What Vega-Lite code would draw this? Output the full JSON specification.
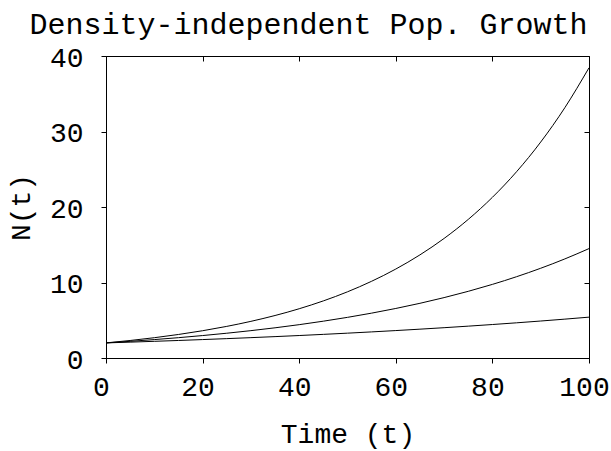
{
  "$schema": "https://vega.github.io/schema/vega-lite/v6.json",
  "autosize": {"type": "none"},
  "padding": {"left": 106, "top": 56, "right": 22, "bottom": 93},
  "width": 483,
  "height": 302,
  "background": "white",
  "title": {
    "text": "Density-independent Pop. Growth",
    "font": "Liberation Mono",
    "fontSize": 30,
    "fontWeight": "normal",
    "color": "black",
    "anchor": "middle",
    "frame": "group",
    "dx": -39,
    "offset": 4
  },
  "config": {
    "view": {"stroke": "black", "strokeWidth": 1},
    "axis": {
      "grid": false,
      "domainColor": "black",
      "tickColor": "black",
      "labelColor": "black",
      "titleColor": "black",
      "labelFont": "Liberation Mono",
      "titleFont": "Liberation Mono",
      "labelFontSize": 28,
      "titleFontSize": 28,
      "titleFontWeight": "normal",
      "tickSize": 5,
      "domainWidth": 1,
      "tickWidth": 1
    }
  },
  "data": {
    "values": [
      {"t": 0, "N": 2, "s": "1.01"}, {"t": 5, "N": 2.102, "s": "1.01"}, {"t": 10, "N": 2.209, "s": "1.01"}, {"t": 15, "N": 2.322, "s": "1.01"}, {"t": 20, "N": 2.440, "s": "1.01"}, {"t": 25, "N": 2.565, "s": "1.01"}, {"t": 30, "N": 2.696, "s": "1.01"}, {"t": 35, "N": 2.833, "s": "1.01"}, {"t": 40, "N": 2.978, "s": "1.01"}, {"t": 45, "N": 3.130, "s": "1.01"}, {"t": 50, "N": 3.289, "s": "1.01"}, {"t": 55, "N": 3.457, "s": "1.01"}, {"t": 60, "N": 3.633, "s": "1.01"}, {"t": 65, "N": 3.819, "s": "1.01"}, {"t": 70, "N": 4.014, "s": "1.01"}, {"t": 75, "N": 4.218, "s": "1.01"}, {"t": 80, "N": 4.433, "s": "1.01"}, {"t": 85, "N": 4.660, "s": "1.01"}, {"t": 90, "N": 4.897, "s": "1.01"}, {"t": 95, "N": 5.147, "s": "1.01"}, {"t": 100, "N": 5.410, "s": "1.01"},
      {"t": 0, "N": 2, "s": "1.02"}, {"t": 5, "N": 2.208, "s": "1.02"}, {"t": 10, "N": 2.438, "s": "1.02"}, {"t": 15, "N": 2.692, "s": "1.02"}, {"t": 20, "N": 2.972, "s": "1.02"}, {"t": 25, "N": 3.281, "s": "1.02"}, {"t": 30, "N": 3.623, "s": "1.02"}, {"t": 35, "N": 4.000, "s": "1.02"}, {"t": 40, "N": 4.416, "s": "1.02"}, {"t": 45, "N": 4.876, "s": "1.02"}, {"t": 50, "N": 5.383, "s": "1.02"}, {"t": 55, "N": 5.943, "s": "1.02"}, {"t": 60, "N": 6.562, "s": "1.02"}, {"t": 65, "N": 7.245, "s": "1.02"}, {"t": 70, "N": 7.999, "s": "1.02"}, {"t": 75, "N": 8.832, "s": "1.02"}, {"t": 80, "N": 9.751, "s": "1.02"}, {"t": 85, "N": 10.766, "s": "1.02"}, {"t": 90, "N": 11.886, "s": "1.02"}, {"t": 95, "N": 13.123, "s": "1.02"}, {"t": 100, "N": 14.489, "s": "1.02"},
      {"t": 0, "N": 2, "s": "1.03"}, {"t": 5, "N": 2.319, "s": "1.03"}, {"t": 10, "N": 2.688, "s": "1.03"}, {"t": 15, "N": 3.116, "s": "1.03"}, {"t": 20, "N": 3.612, "s": "1.03"}, {"t": 25, "N": 4.188, "s": "1.03"}, {"t": 30, "N": 4.855, "s": "1.03"}, {"t": 35, "N": 5.628, "s": "1.03"}, {"t": 40, "N": 6.524, "s": "1.03"}, {"t": 45, "N": 7.563, "s": "1.03"}, {"t": 50, "N": 8.768, "s": "1.03"}, {"t": 55, "N": 10.164, "s": "1.03"}, {"t": 60, "N": 11.783, "s": "1.03"}, {"t": 65, "N": 13.660, "s": "1.03"}, {"t": 70, "N": 15.836, "s": "1.03"}, {"t": 75, "N": 18.358, "s": "1.03"}, {"t": 80, "N": 21.282, "s": "1.03"}, {"t": 85, "N": 24.671, "s": "1.03"}, {"t": 90, "N": 28.601, "s": "1.03"}, {"t": 95, "N": 33.156, "s": "1.03"}, {"t": 100, "N": 38.437, "s": "1.03"}
    ]
  },
  "layer": [
    {
      "mark": {"type": "line", "color": "black", "strokeWidth": 1, "interpolate": "monotone"},
      "encoding": {
        "x": {"field": "t", "type": "quantitative", "scale": {"domain": [0, 100], "nice": false},
              "axis": {"orient": "bottom", "title": "Time (t)", "values": [0, 20, 40, 60, 80, 100], "labelPadding": 10, "labelOffset": -5, "titlePadding": 19, "labelFlush": false}},
        "y": {"field": "N", "type": "quantitative", "scale": {"domain": [0, 40], "nice": false},
              "axis": {"orient": "left", "title": "N(t)", "values": [0, 10, 20, 30, 40], "labelPadding": 18, "labelOffset": 2, "titlePadding": 14, "labelFlush": false}},
        "detail": {"field": "s"}
      }
    },
    {
      "mark": {"type": "line", "strokeOpacity": 0, "interpolate": "monotone"},
      "encoding": {
        "x": {"field": "t", "type": "quantitative",
              "axis": {"orient": "top", "title": null, "labels": false, "domain": false, "values": [0, 20, 40, 60, 80, 100], "tickSize": -5}},
        "y": {"field": "N", "type": "quantitative",
              "axis": {"orient": "right", "title": null, "labels": false, "domain": false, "values": [0, 10, 20, 30, 40], "tickSize": -5}},
        "detail": {"field": "s"}
      }
    }
  ],
  "resolve": {"axis": {"x": "independent", "y": "independent"}}
}
